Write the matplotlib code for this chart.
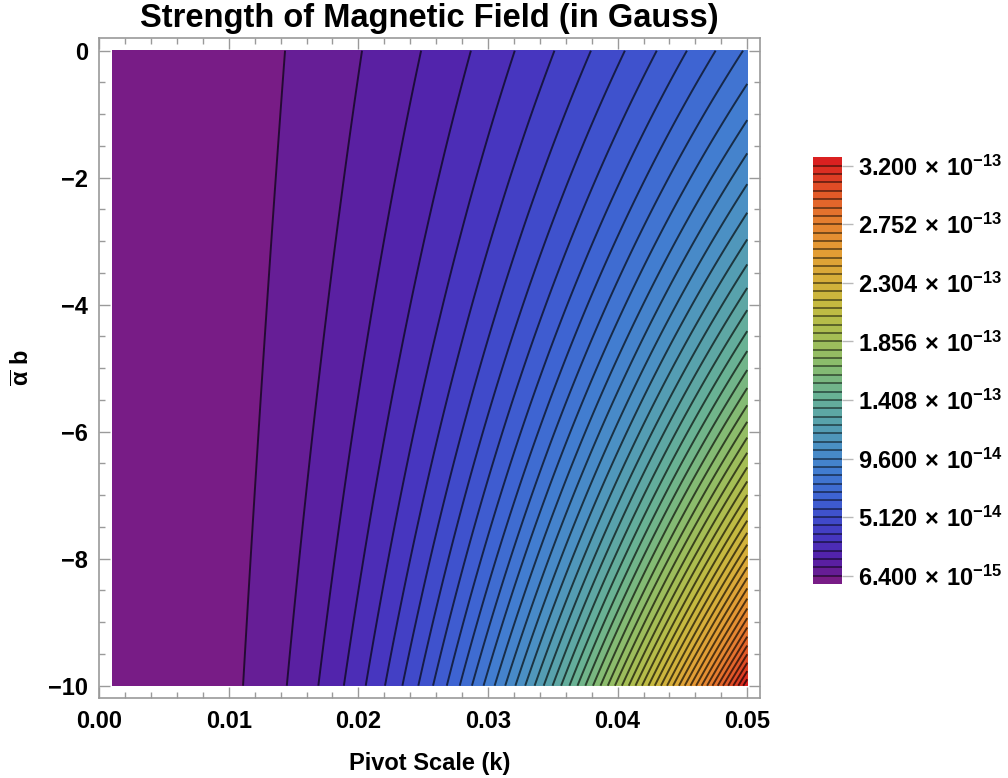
import numpy as np
import matplotlib
matplotlib.use("Agg")
import matplotlib.pyplot as plt
from matplotlib.colors import LinearSegmentedColormap

plt.rcParams['font.family'] = ['Liberation Sans', 'DejaVu Sans']
plt.rcParams['font.weight'] = 'bold'
plt.rcParams['mathtext.fontset'] = 'custom'
plt.rcParams['mathtext.rm'] = 'Liberation Sans:bold'
plt.rcParams['mathtext.it'] = 'Liberation Sans:bold'
plt.rcParams['mathtext.bf'] = 'Liberation Sans:bold'
plt.rcParams['axes.unicode_minus'] = True

# ---------------- data ----------------
k_range = [0.001, 0.05]                 # pivot scale k
alpha_range = [-10.0, 0.0]              # alpha_b
alpha_edges = [0.0, -10.0]              # rows where the field shape was read
first_contour_k = [0.01434, 0.0111]     # k of the first contour at those rows
power_index = [2.0, 2.61]               # growth exponent of B with k at those rows
level_step = 6.4e-15                    # contour spacing (Gauss)
n_levels = 50                           # contour lines 1..50 * level_step
cbar_tick_values = [6.4e-15, 5.12e-14, 9.6e-14, 1.408e-13,
                    1.856e-13, 2.304e-13, 2.752e-13, 3.2e-13]
cbar_tick_labels = [r'$6.400\,\times\,10^{-15}$', r'$5.120\,\times\,10^{-14}$',
                    r'$9.600\,\times\,10^{-14}$', r'$1.408\,\times\,10^{-13}$',
                    r'$1.856\,\times\,10^{-13}$', r'$2.304\,\times\,10^{-13}$',
                    r'$2.752\,\times\,10^{-13}$', r'$3.200\,\times\,10^{-13}$']
x_ticks = [0.00, 0.01, 0.02, 0.03, 0.04, 0.05]
x_tick_labels = ['0.00', '0.01', '0.02', '0.03', '0.04', '0.05']
y_ticks = [0, -2, -4, -6, -8, -10]
y_tick_labels = ['0', '\u22122', '\u22124', '\u22126', '\u22128', '\u221210']

# Mathematica "Rainbow"-like gradient
rainbow_pos = [0.00, 0.02, 0.04, 0.06, 0.10, 0.14, 0.20, 0.26, 0.32, 0.38,
               0.44, 0.51, 0.58, 0.65, 0.72, 0.79, 0.86, 0.93, 1.00]
rainbow_rgb = [(120, 28, 134), (102, 30, 150), (90, 32, 163), (82, 36, 173),
               (70, 55, 192), (64, 75, 203), (62, 100, 210), (66, 125, 208),
               (75, 145, 195), (88, 162, 172), (105, 178, 148), (135, 188, 112),
               (165, 190, 85), (195, 187, 65), (215, 175, 58), (228, 155, 52),
               (230, 128, 48), (226, 85, 40), (218, 32, 32)]

# ---------------- build field ----------------
k = np.linspace(k_range[0], k_range[1], 500)
a = np.linspace(alpha_range[0], alpha_range[1], 400)
K, A = np.meshgrid(k, a)
frac = (A - alpha_edges[0]) / (alpha_edges[1] - alpha_edges[0])
lnk1 = np.log(first_contour_k[0]) + frac * (np.log(first_contour_k[1]) - np.log(first_contour_k[0]))
p = power_index[0] + frac * (power_index[1] - power_index[0])
B = level_step * np.exp(p * (np.log(K) - lnk1))

cmap = LinearSegmentedColormap.from_list(
    'rb', [(t, tuple(c / 255 for c in rgb)) for t, rgb in zip(rainbow_pos, rainbow_rgb)])

levels_lines = [level_step * i for i in range(1, n_levels + 1)]
levels_fill = [0.0] + levels_lines + [level_step * 1000]
band_colors = [cmap(i / n_levels) for i in range(n_levels + 1)]

# ---------------- figure ----------------
fig = plt.figure(figsize=(10.08, 7.78), dpi=100)
ax = fig.add_axes([0.0984, 0.1023, 0.6555, 0.8489])

cf = ax.contourf(K, A, B, levels=levels_fill, colors=band_colors, antialiased=False)
ax.contour(K, A, B, levels=levels_lines, colors='black', alpha=0.65, linewidths=1.4)

span_x = k_range[1] - k_range[0]
span_y = alpha_range[1] - alpha_range[0]
ax.set_xlim(k_range[0] - 0.02 * span_x, k_range[1] + 0.02 * span_x)
ax.set_ylim(alpha_range[0] - 0.02 * span_y, alpha_range[1] + 0.02 * span_y)

frame_c = '#9a9a9a'
for s in ax.spines.values():
    s.set_color(frame_c)
    s.set_linewidth(1.2)
ax.set_xticks(x_ticks)
ax.set_xticklabels(x_tick_labels)
ax.set_yticks(y_ticks)
ax.set_yticklabels(y_tick_labels)
ax.set_xticks(np.arange(0, 0.0501, 0.002), minor=True)
ax.set_yticks(np.arange(-10, 0.01, 0.5), minor=True)
ax.tick_params(which='both', direction='in', top=True, right=True, color=frame_c, width=1.0)
ax.tick_params(which='major', length=8, labelsize=17, pad=8)
ax.tick_params(which='minor', length=4.5)
for lab in ax.get_xticklabels() + ax.get_yticklabels():
    lab.set_fontweight('bold')

ax.set_title('Strength of Magnetic Field (in Gauss)', fontsize=23.5, fontweight='bold', pad=8)
ax.set_xlabel('Pivot Scale (k)', fontsize=17, fontweight='bold', labelpad=14)
ax.set_ylabel(r'$\overline{\alpha}$ b', fontsize=17, fontweight='bold', labelpad=10)

# ---------------- color legend ----------------
cax = fig.add_axes([812.7 / 1008, 1 - 584 / 778, 29 / 1008, (584 - 157.3) / 778])
top = level_step * (n_levels + 1)
grad = np.arange(n_levels + 1).reshape(-1, 1)
cax.imshow(grad, aspect='auto', origin='lower', extent=[0, 1, 0, top],
           cmap=matplotlib.colors.ListedColormap(band_colors), interpolation='nearest')
for lv in levels_lines:
    cax.axhline(lv, color='black', alpha=0.6, linewidth=1.1)
cax.set_xlim(0, 1)
cax.set_ylim(0, top)
for s in cax.spines.values():
    s.set_visible(False)
cax.set_xticks([])
cax.yaxis.tick_right()
cax.set_yticks(cbar_tick_values)
cax.set_yticklabels(cbar_tick_labels)
cax.tick_params(axis='y', direction='out', length=8, color='#b8b8b8', width=1.0,
                labelsize=17, pad=4, left=False)

fig.savefig('out.png', dpi=100)
